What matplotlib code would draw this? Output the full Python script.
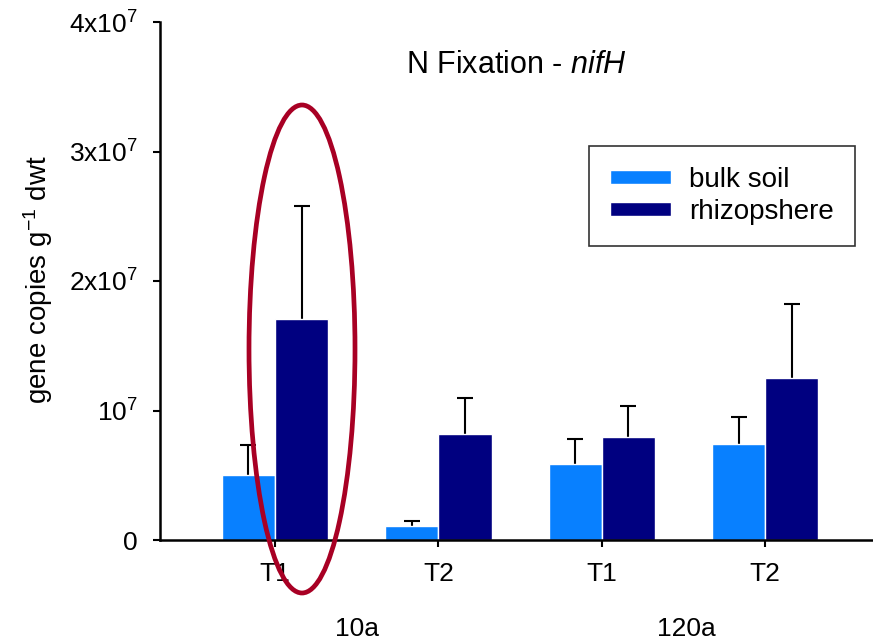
import numpy as np
import matplotlib.pyplot as plt
from matplotlib.patches import Ellipse

plt.rcParams['font.family'] = ['Liberation Sans', 'DejaVu Sans']
plt.rcParams['mathtext.fontset'] = 'custom'
plt.rcParams['mathtext.rm'] = 'Liberation Sans'
plt.rcParams['mathtext.it'] = 'Liberation Sans:italic'

TREATMENTS = ['T1', 'T2', 'T1', 'T2']
AGES = ['10a', '120a']
BULK = [5.0e6, 1.08e6, 5.87e6, 7.39e6]
BULK_ERR = [2.34e6, 0.41e6, 1.95e6, 2.11e6]
RHIZO = [1.704e7, 8.19e6, 7.98e6, 1.249e7]
RHIZO_ERR = [0.876e7, 2.75e6, 2.34e6, 5.76e6]

C_BULK = '#0880ff'
C_RHIZO = '#000080'

fig = plt.figure(figsize=(8.73, 6.43), dpi=100)
ax = fig.add_axes([160/873, 103/643, 713/873, 518/643])

x = np.arange(len(TREATMENTS))
w = 0.325
ax.bar(x - w/2, BULK, w, color=C_BULK, edgecolor='white', linewidth=1.0,
       label='bulk soil', zorder=2)
ax.bar(x + w/2, RHIZO, w, color=C_RHIZO, edgecolor='white', linewidth=1.0,
       label='rhizopshere', zorder=2)
for xs, vals, errs in [(x - w/2, BULK, BULK_ERR), (x + w/2, RHIZO, RHIZO_ERR)]:
    _, caps, _ = ax.errorbar(xs, vals, yerr=[np.zeros(4), errs], fmt='none',
                             ecolor='black', elinewidth=1.5, capsize=6,
                             capthick=1.5, zorder=1)
    caps[0].set_visible(False)  # no cap on the zero-length lower side

ax.set_xlim(-0.704, 3.66)
ax.set_ylim(0, 4e7)
ax.set_xticks(x)
ax.set_xticklabels(TREATMENTS, fontsize=19)
ax.set_yticks([0, 1e7, 2e7, 3e7, 4e7])
ax.set_yticklabels(['0', r'10$^7$', r'2x10$^7$', r'3x10$^7$', r'4x10$^7$'], fontsize=19)
ax.tick_params(axis='both', direction='out', length=5, width=1.5)
ax.tick_params(axis='y', pad=11)
ax.tick_params(axis='x', pad=11)
for s in ['top', 'right']:
    ax.spines[s].set_visible(False)
ax.spines['left'].set_linewidth(1.8)
ax.spines['bottom'].set_linewidth(1.8)

fig.text(38/873, 1 - 280/643, r'gene copies g$^{-1}$ dwt', rotation=90,
         ha='center', va='center', fontsize=20)

for i, age in enumerate(AGES):
    ax.text(0.5 + 2*i + 0.02*i, -96/518, age, transform=ax.get_xaxis_transform(),
            ha='center', va='baseline', fontsize=19)

fig.text(516/873, 1 - 73/643, r'N Fixation - $\mathit{nifH}$',
         ha='center', va='baseline', fontsize=22)

leg = ax.legend(loc='upper left', bbox_to_anchor=(589/873, 1 - 146/643),
                bbox_transform=fig.transFigure, borderaxespad=0,
                prop={'size': 20}, frameon=True, fancybox=False, edgecolor='black',
                handlelength=2.2, handleheight=0.43, handletextpad=0.65,
                borderpad=0.75, labelspacing=0.22)
leg.get_frame().set_linewidth(1.2)

ell = Ellipse((3.02, (643 - 349)/100), 1.06, 4.88, fill=False,
              edgecolor='#a80024', linewidth=3.4, transform=fig.dpi_scale_trans,
              zorder=5)
fig.patches.append(ell)

fig.savefig('out.png', dpi=100)
